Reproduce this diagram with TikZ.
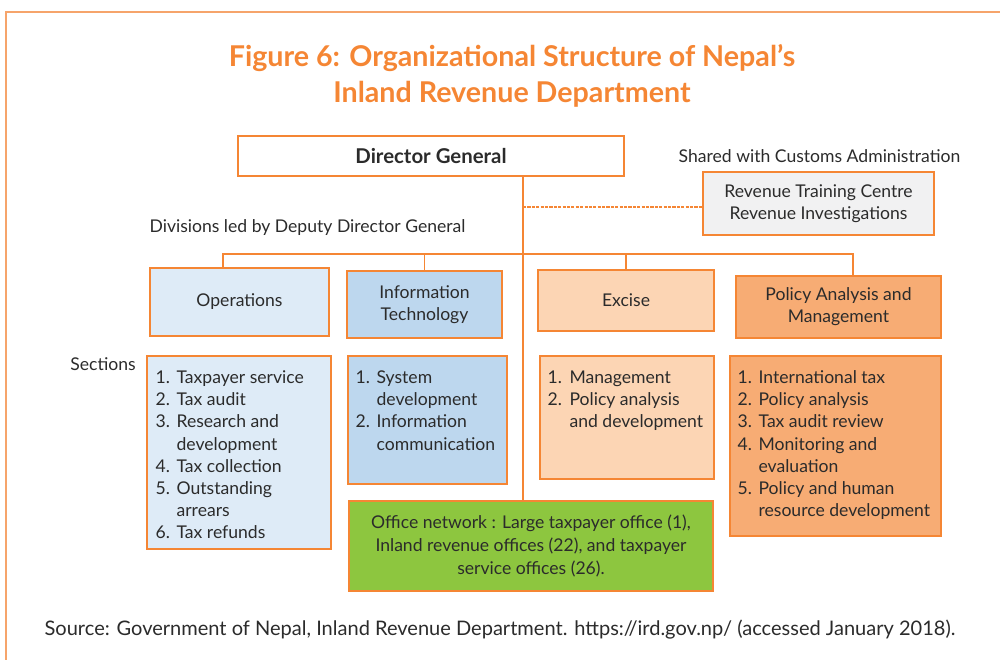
\documentclass[tikz,border=0pt]{standalone}
\usepackage{fontspec}
\setmainfont{Lato}
\usepackage{tikz}
\usetikzlibrary{positioning}
\definecolor{irdorange}{HTML}{F58634}
\definecolor{framecol}{HTML}{F6A46B}
\definecolor{opsblue}{HTML}{DEEBF7}
\definecolor{itblue}{HTML}{BDD7EE}
\definecolor{excpeach}{HTML}{FCD5B4}
\definecolor{pamorange}{HTML}{F7AC74}
\definecolor{netgreen}{HTML}{8DC63F}
\definecolor{rtcgray}{HTML}{F1F1F2}
\definecolor{inktext}{HTML}{2B2B2B}
\tikzset{
every node/.style={ % Sets the text of every node
        text=inktext,
        font=\fontsize{10}{12.6}\selectfont
    },
orgbox/.style={ % Sets the properties for each box
        draw=irdorange,
        line width=1.6pt,
        inner sep=0pt,
        align=center
    },
itemlist/.style={inner sep=0pt, outer sep=0pt, align=left}, % Numbered sections
link/.style={draw=irdorange, line width=0.6pt} % Lines of the chart
}

\begin{document}
\begin{tikzpicture}
\useasboundingbox (0,0) rectangle (20,-13.2);
\draw[framecol, line width=1.1pt] (20,-0.24) -- (0.12,-0.24) -- (0.12,-13.2);

\node [text=irdorange, font=\bfseries\fontsize{16.3}{20.5}\selectfont, align=center] (title) at (10.24,-1.52)
    {Figure 6: Organizational Structure of Nepal’s\\Inland Revenue Department};

\node [orgbox,fill=white,minimum width=7.72cm,minimum height=0.8cm,font=\bfseries\fontsize{11.6}{13}\selectfont] (dg) at (8.62,-3.12) {Director General};
\node (shared) at (16.39,-3.12) {Shared with Customs Administration};
\node [orgbox,fill=rtcgray,minimum width=4.62cm,minimum height=1.26cm] (rtc) at (16.37,-4.07) {Revenue Training Centre\\Revenue Investigations};
\node (divs) at (6.15,-4.56) {Divisions led by Deputy Director General};
\coordinate (trunk) at (10.46,-5.08);
%%%%%%%%%%%%%%%%%%%%%%%%%%%%%%%%%%
\node [orgbox,fill=opsblue,minimum width=3.58cm,minimum height=1.36cm]   (ops) at (4.79,-6.04) {Operations};
\node [orgbox,fill=itblue,minimum width=3.10cm,minimum height=1.34cm]    (it)  at (8.49,-6.09) {Information\\Technology};
\node [orgbox,fill=excpeach,minimum width=3.52cm,minimum height=1.22cm]  (exc) at (12.52,-6.01) {Excise};
\node [orgbox,fill=pamorange,minimum width=4.10cm,minimum height=1.24cm] (pam) at (16.77,-6.14) {Policy Analysis and\\Management};
%%%%%%%%%%%%%%%%%%%%%%%%%%%%%%%%%%
\node (secs) at (2.06,-7.28) {Sections};
\node [orgbox,fill=opsblue,minimum width=3.68cm,minimum height=3.86cm]   (opssec) at (4.78,-9.05) {};
\node [orgbox,fill=itblue,minimum width=3.18cm,minimum height=2.56cm]    (itsec)  at (8.55,-8.40) {};
\node [orgbox,fill=excpeach,minimum width=3.48cm,minimum height=2.46cm]  (excsec) at (12.54,-8.35) {};
\node [orgbox,fill=pamorange,minimum width=4.22cm,minimum height=3.60cm] (pamsec) at (16.71,-8.92) {};

\node [itemlist,below right=0.27cm and 0.2cm of opssec.north west] (opslist) {
    \begin{tabular}{@{}p{0.42cm}@{}l@{}}
        1. & Taxpayer service\\
        2. & Tax audit\\
        3. & Research and\\
           & development\\
        4. & Tax collection\\
        5. & Outstanding\\
           & arrears\\
        6. & Tax refunds
    \end{tabular}
};
\node [itemlist,below right=0.27cm and 0.18cm of itsec.north west] (itlist) {
    \begin{tabular}{@{}p{0.42cm}@{}l@{}}
        1. & System\\
           & development\\
        2. & Information\\
           & communication
    \end{tabular}
};
\node [itemlist,below right=0.27cm and 0.18cm of excsec.north west] (exclist) {
    \begin{tabular}{@{}p{0.44cm}@{}l@{}}
        1. & Management\\
        2. & Policy analysis\\
           & and development
    \end{tabular}
};
\node [itemlist,below right=0.27cm and 0.18cm of pamsec.north west] (pamlist) {
    \begin{tabular}{@{}p{0.42cm}@{}l@{}}
        1. & International tax\\
        2. & Policy analysis\\
        3. & Tax audit review\\
        4. & Monitoring and\\
           & evaluation\\
        5. & Policy and human\\
           & resource development
    \end{tabular}
};

\node [orgbox,fill=netgreen,minimum width=7.28cm,minimum height=1.80cm,font=\fontsize{10}{13}\selectfont] (net) at (10.62,-10.92)
    {Office network : Large taxpayer office (1),\\Inland revenue offices (22), and taxpayer\\service offices (26).};

\node [font=\fontsize{11.4}{13}\selectfont] (source) at (10.0,-12.6) {Source: Government of Nepal, Inland Revenue Department. https://ird.gov.np/ (accessed January 2018).};

\draw[link]
    (dg.south -| trunk) -- (net.north -| trunk)
    ([xshift=-0.33cm]ops.north) |- (trunk) -| ([xshift=0.29cm]pam.north)
    (it.north) -- (it.north |- trunk)
    (exc.north) -- (exc.north |- trunk);
\draw[draw=irdorange,line width=0.8pt,dash pattern=on 1.8pt off 0.7pt] ([yshift=-0.07cm]rtc.west -| trunk) -- ([yshift=-0.07cm]rtc.west);
\end{tikzpicture}
\end{document}
